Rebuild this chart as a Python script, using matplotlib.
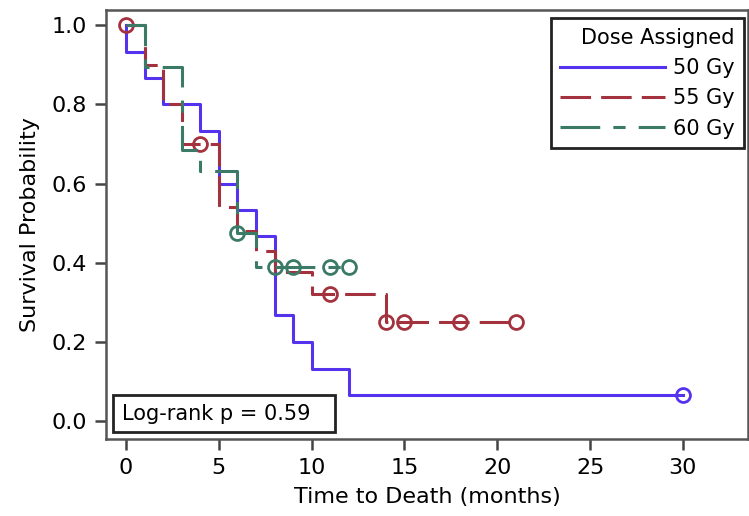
import numpy as np
import matplotlib
matplotlib.use("Agg")
import matplotlib.pyplot as plt
from matplotlib.patches import Rectangle

plt.rcParams['font.family'] = ['DejaVu Sans']

# Kaplan-Meier step data
groups = ['50 Gy', '55 Gy', '60 Gy']

t50 = [0, 1, 2, 4, 5, 6, 7, 8, 9, 10, 12]
s50 = [0.933, 0.867, 0.8, 0.733, 0.6, 0.533, 0.467, 0.267, 0.2, 0.133, 0.067]
end50 = 30
cens50 = [30]

t55 = [1, 2, 3, 5, 6, 7, 8, 10, 14]
s55 = [0.9, 0.8, 0.7, 0.54, 0.48, 0.43, 0.377, 0.32, 0.25]
end55 = 21
cens55 = [0, 4, 11, 14, 15, 18, 21]

t60 = [1, 3, 4, 6, 7]
s60 = [0.895, 0.684, 0.632, 0.474, 0.39]
end60 = 12
cens60 = [6, 8, 9, 11, 12]

x_ticks = [0, 5, 10, 15, 20, 25, 30]
y_ticks = [0.0, 0.2, 0.4, 0.6, 0.8, 1.0]
p_text = 'Log-rank p = 0.59'

colors = ['#5533ee', '#a3323e', '#3b7a67']
dashes = [None, (10, 3.3), (13, 4.3, 4, 4.3)]


def surv_at(times, surv, t):
    idx = np.searchsorted(times, t, side='right') - 1
    return 1.0 if idx < 0 else surv[idx]


fig = plt.figure(figsize=(7.49, 5.16), dpi=100)
ax = fig.add_axes([0.1415, 0.1492, 0.857, 0.8314])

series = [(t50, s50, end50, cens50), (t55, s55, end55, cens55), (t60, s60, end60, cens60)]
lw = 2.2
for (t, s, end, cens), col, dsh, lab in zip(series, colors, dashes, groups):
    xs = [0] + list(t) + [end]
    ys = [1.0] + list(s) + [s[-1]]
    line, = ax.step(xs, ys, where='post', color=col, lw=lw, label=lab)
    if dsh is not None:
        line.set_dashes(dsh)
    cy = [surv_at(t, s, c) for c in cens]
    ax.plot(cens, cy, linestyle='none', marker='o', markersize=10,
            markerfacecolor='none', markeredgecolor=col, markeredgewidth=2.0)

ax.set_xlim(-1.08, 33.5)
ax.set_ylim(-0.045, 1.038)
ax.set_xticks(x_ticks)
ax.set_yticks(y_ticks)
ax.set_yticklabels([f'{v:.1f}' for v in y_ticks])
ax.tick_params(axis='both', direction='out', length=8, width=1.8, pad=6,
               labelsize=16, colors='#444444', labelcolor='black')
for sp in ax.spines.values():
    sp.set_linewidth(1.8)
    sp.set_color('#555555')

ax.set_xlabel('Time to Death (months)', fontsize=16, labelpad=6)
ax.set_ylabel('Survival Probability', fontsize=16, labelpad=8)

leg = ax.legend(title='Dose Assigned', loc='upper right', fontsize=15,
                title_fontsize=15, handlelength=5.0, handletextpad=0.4,
                borderpad=0.45, labelspacing=0.5, frameon=True, fancybox=False,
                alignment='right', bbox_to_anchor=(0.994, 0.981), borderaxespad=0)
leg.get_frame().set_edgecolor('#222222')
leg.get_frame().set_linewidth(2)
leg.get_frame().set_alpha(None)

# p-value box in the lower-left corner
ax.add_patch(Rectangle((0.011, 0.016), 0.346, 0.086, transform=ax.transAxes,
                       facecolor='white', edgecolor='#222222', linewidth=2, zorder=5))
ax.text(0.025, 0.059, p_text, transform=ax.transAxes, fontsize=15,
        ha='left', va='center', zorder=6)

fig.savefig('out.png', dpi=100)
